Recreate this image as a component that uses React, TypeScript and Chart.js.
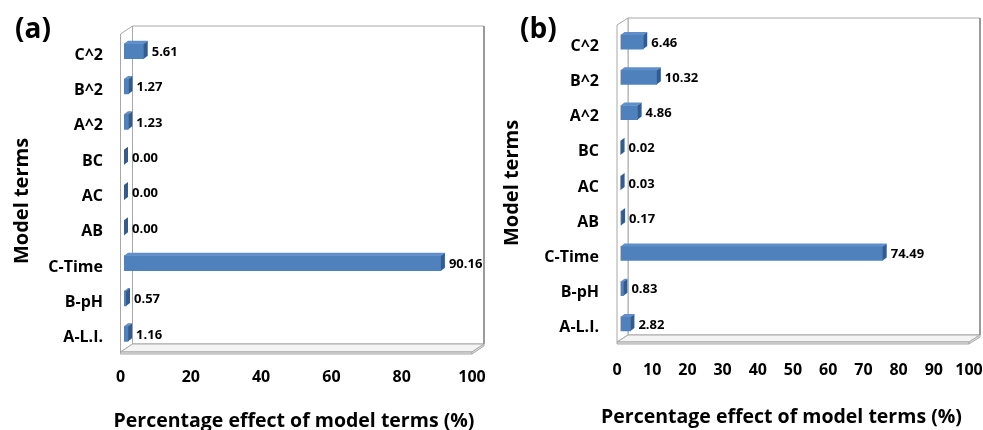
import React, { useEffect, useRef } from "react";
import { Chart, registerables } from "chart.js";

Chart.register(...registerables);

// Model terms, listed top to bottom
const terms = ["C^2", "B^2", "A^2", "BC", "AC", "AB", "C-Time", "B-pH", "A-L.I."];
// Percentage effect of each term, panel (a) and panel (b)
const effectA = [5.61, 1.27, 1.23, 0.0, 0.0, 0.0, 90.16, 0.57, 1.16];
const effectB = [6.46, 10.32, 4.86, 0.02, 0.03, 0.17, 74.49, 0.83, 2.82];
const xTitle = "Percentage effect of model terms (%)";
const yTitle = "Model terms";

const FONT = "'Open Sans', 'Noto Sans', sans-serif";
const FRONT = "#4f81bd";
const TOP = "#5f8fcb";
const SIDE = "#345b8c";
const WALL = "#a8a8a8";

type PanelSpec = {
  tag: string;
  values: number[];
  step: number;
  left: number;
  width: number;
  axisWidth: number;
  axisHeight: number;
  padTop: number;
  padRight: number;
  depth: [number, number];
  barThickness: number;
  tickGap: number;
  labelGap: number;
  tagX: number;
  yTitleX: number;
  yTitleY: number;
  xTitleX: number;
  xTitleY: number;
};

const panels: PanelSpec[] = [
  {
    tag: "(a)",
    values: effectA,
    step: 20,
    left: 0,
    width: 490,
    axisWidth: 120.5,
    axisHeight: 78,
    padTop: 34,
    padRight: 18,
    depth: [12, 8],
    barThickness: 15,
    tickGap: 15.5,
    labelGap: 17.5,
    tagX: 15,
    yTitleX: 28,
    yTitleY: 201,
    xTitleX: 294,
    xTitleY: 427,
  },
  {
    tag: "(b)",
    values: effectB,
    step: 10,
    left: 490,
    width: 493,
    axisWidth: 127,
    axisHeight: 88,
    padTop: 25,
    padRight: 14,
    depth: [11, 7],
    barThickness: 14,
    tickGap: 18.5,
    labelGap: 18,
    tagX: 30,
    yTitleX: 28,
    yTitleY: 183,
    xTitleX: 291.5,
    xTitleY: 423,
  },
];

// Bars sit a little behind the front edge of the floor
const BAR_SHIFT: [number, number] = [3.5, -0.5];
const BAR_DEPTH: [number, number] = [4, 3];

function makePlugin(spec: PanelSpec) {
  return {
    id: "box3d",
    beforeDatasetsDraw(chart: any) {
      const { ctx, chartArea } = chart;
      const { left, right, top, bottom } = chartArea;
      const [dx, dy] = spec.depth;
      ctx.save();
      ctx.lineWidth = 1;
      ctx.strokeStyle = WALL;
      ctx.fillStyle = "#ffffff";
      // back wall
      ctx.beginPath();
      ctx.rect(left + dx, top - dy, right - left, bottom - top);
      ctx.fill();
      ctx.stroke();
      // left wall
      ctx.beginPath();
      ctx.moveTo(left, top);
      ctx.lineTo(left + dx, top - dy);
      ctx.lineTo(left + dx, bottom - dy);
      ctx.lineTo(left, bottom);
      ctx.closePath();
      ctx.fill();
      ctx.stroke();
      // floor slab
      const t = 2;
      ctx.fillStyle = "#f4f4f4";
      ctx.beginPath();
      ctx.moveTo(left, bottom);
      ctx.lineTo(left + dx, bottom - dy);
      ctx.lineTo(right + dx, bottom - dy);
      ctx.lineTo(right, bottom);
      ctx.closePath();
      ctx.fill();
      ctx.stroke();
      ctx.fillStyle = "#e6e6e6";
      ctx.beginPath();
      ctx.rect(left, bottom, right - left, t);
      ctx.fill();
      ctx.stroke();
      ctx.beginPath();
      ctx.moveTo(right, bottom);
      ctx.lineTo(right + dx, bottom - dy);
      ctx.lineTo(right + dx, bottom - dy + t);
      ctx.lineTo(right, bottom + t);
      ctx.closePath();
      ctx.fill();
      ctx.stroke();
      // heavier right edge of the back wall
      ctx.strokeStyle = "#9a9a9a";
      ctx.lineWidth = 2;
      ctx.beginPath();
      ctx.moveTo(right + dx, top - dy);
      ctx.lineTo(right + dx, bottom - dy);
      ctx.stroke();
      ctx.restore();

      ctx.save();
      ctx.translate(BAR_SHIFT[0], BAR_SHIFT[1]);
    },
    afterDatasetsDraw(chart: any) {
      const { ctx } = chart;
      const meta = chart.getDatasetMeta(0);
      const data = chart.data.datasets[0].data as number[];
      const [bx, by] = BAR_DEPTH;
      meta.data.forEach((bar: any) => {
        const { x, y, base, height } = bar.getProps(["x", "y", "base", "height"], true);
        const yt = y - height / 2;
        const yb = y + height / 2;
        // top face
        ctx.fillStyle = TOP;
        ctx.beginPath();
        ctx.moveTo(base, yt);
        ctx.lineTo(x, yt);
        ctx.lineTo(x + bx, yt - by);
        ctx.lineTo(base + bx, yt - by);
        ctx.closePath();
        ctx.fill();
        // end face
        ctx.fillStyle = SIDE;
        ctx.beginPath();
        ctx.moveTo(x, yt);
        ctx.lineTo(x + bx, yt - by);
        ctx.lineTo(x + bx, yb - by);
        ctx.lineTo(x, yb);
        ctx.closePath();
        ctx.fill();
      });
      ctx.restore();

      // value labels
      ctx.save();
      ctx.fillStyle = "#000";
      ctx.font = `bold 13px ${FONT}`;
      ctx.textAlign = "left";
      ctx.textBaseline = "middle";
      meta.data.forEach((bar: any, i: number) => {
        const { x, y } = bar.getProps(["x", "y"], true);
        ctx.fillText(
          data[i].toFixed(2),
          x + BAR_SHIFT[0] + bx + 4,
          y + BAR_SHIFT[1] + 1
        );
      });
      ctx.restore();
    },
    afterDraw(chart: any) {
      const { ctx } = chart;
      ctx.save();
      ctx.fillStyle = "#000";
      // panel tag
      ctx.font = `bold 28px ${FONT}`;
      ctx.textAlign = "left";
      ctx.textBaseline = "middle";
      ctx.fillText(spec.tag, spec.tagX, 30);
      // x title
      ctx.font = `bold 19.5px ${FONT}`;
      ctx.textAlign = "center";
      ctx.textBaseline = "alphabetic";
      ctx.fillText(xTitle, spec.xTitleX, spec.xTitleY);
      // y title
      ctx.translate(spec.yTitleX, spec.yTitleY);
      ctx.rotate(-Math.PI / 2);
      ctx.font = `bold 20px ${FONT}`;
      ctx.fillText(yTitle, 0, 0);
      ctx.restore();
    },
  };
}

function Panel({ spec }: { spec: PanelSpec }) {
  const ref = useRef<HTMLCanvasElement | null>(null);
  useEffect(() => {
    if (!ref.current) return;
    const chart = new Chart(ref.current, {
      type: "bar",
      data: {
        labels: terms,
        datasets: [
          {
            data: spec.values,
            backgroundColor: FRONT,
            borderWidth: 0,
            barThickness: spec.barThickness,
          },
        ],
      },
      options: {
        indexAxis: "y",
        responsive: false,
        animation: false,
        devicePixelRatio: 1,
        layout: {
          padding: { top: spec.padTop, right: spec.padRight, bottom: 0, left: 0 },
        },
        plugins: {
          legend: { display: false },
          tooltip: { enabled: false },
          title: { display: false },
        },
        scales: {
          x: {
            min: 0,
            max: 100,
            // hidden tick marks keep the labels clear of the floor
            grid: { display: false, drawTicks: true, tickLength: spec.tickGap },
            border: { display: false },
            ticks: {
              stepSize: spec.step,
              padding: 0,
              color: "#000",
              font: { family: FONT, size: 16, weight: "bold" },
            },
            afterFit: (scale: any) => {
              scale.height = spec.axisHeight;
            },
          },
          y: {
            grid: { display: false, drawTicks: true, tickLength: spec.labelGap },
            border: { display: false },
            ticks: {
              padding: 0,
              labelOffset: 3.5,
              color: "#000",
              font: { family: FONT, size: 16, weight: "bold" },
            },
            afterFit: (scale: any) => {
              scale.width = spec.axisWidth;
            },
          },
        },
      } as any,
      plugins: [makePlugin(spec)],
    });
    return () => chart.destroy();
  }, [spec]);
  return (
    <canvas
      ref={ref}
      width={spec.width}
      height={430}
      style={{ position: "absolute", left: spec.left, top: 0, width: spec.width, height: 430 }}
    />
  );
}

export default function App() {
  return (
    <div
      style={{
        position: "fixed",
        left: 0,
        top: 0,
        width: 983,
        height: 430,
        background: "#ffffff",
        overflow: "hidden",
      }}
    >
      {panels.map((p) => (
        <Panel key={p.tag} spec={p} />
      ))}
    </div>
  );
}
